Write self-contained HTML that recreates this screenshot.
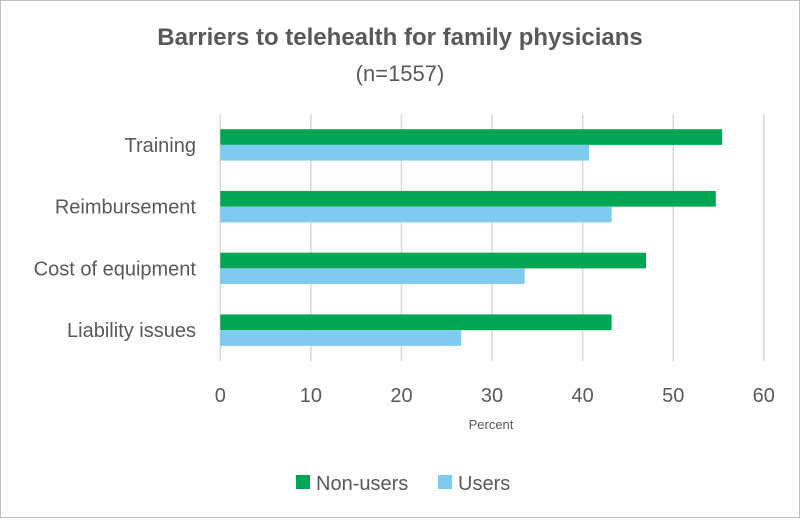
<!DOCTYPE html>
<html><head><meta charset="utf-8"><style>
body{margin:0;background:#fff;font-family:"Liberation Sans",sans-serif}
</style></head><body>
<svg width="800" height="518" xmlns="http://www.w3.org/2000/svg" id="chart">
<rect x="0.5" y="0.5" width="799" height="517" fill="#fff" stroke="#bfbfbf"/>
<text x="400" y="45" text-anchor="middle" font-size="24" font-weight="bold" fill="#595959">Barriers to telehealth for family physicians</text>
<text x="400" y="81" text-anchor="middle" font-size="22" fill="#595959">(n=1557)</text>
<text x="491" y="429" text-anchor="middle" font-size="13" fill="#595959">Percent</text>
<g id="grid"></g><g id="bars"></g><g id="labels"></g>
<rect x="296" y="475" width="14" height="14" fill="#00a651"/>
<text x="316" y="490" font-size="20" fill="#595959">Non-users</text>
<rect x="438" y="475" width="14" height="14" fill="#7ecbef"/>
<text x="458" y="490" font-size="20" fill="#595959">Users</text>
</svg>
<script>
const categories=["Training","Reimbursement","Cost of equipment","Liability issues"];
const nonUsers=[55.4,54.7,47.0,43.2];
const users=[40.7,43.2,33.6,26.6];
const ticks=[0,10,20,30,40,50,60];
const NS="http://www.w3.org/2000/svg";
const x0=220.3,x1=763.8,yTop=114,yBot=361,bh=15.7;
const xs=v=>x0+(v-0)/(60-0)*(x1-x0);
const band=(yBot-yTop)/categories.length;
function mk(t,a,p){const e=document.createElementNS(NS,t);for(const k in a)e.setAttribute(k,a[k]);p.appendChild(e);return e;}
const g=document.getElementById('grid'),b=document.getElementById('bars'),l=document.getElementById('labels');
ticks.forEach(t=>{
 const ln=mk('line',{x1:xs(t),x2:xs(t),y1:yTop,y2:yBot,stroke:'#d9d9d9','stroke-width':1.5},g);
 
 
 const tx=mk('text',{x:xs(t),y:402,'text-anchor':'middle','font-size':20,fill:'#595959'},l);
 tx.textContent=t;
 
 
});
categories.forEach((c,i)=>{
 const yc=yTop+band*i+band/2;
 const r1=mk('rect',{x:x0,y:yc-bh,width:xs(nonUsers[i])-x0,height:bh,fill:'#00a651'},b);
 
 
 const r2=mk('rect',{x:x0,y:yc,width:xs(users[i])-x0,height:bh,fill:'#7ecbef'},b);
 
 
 const t=mk('text',{x:196,y:yc+7,'text-anchor':'end','font-size':20,fill:'#595959'},l);
 t.textContent=c;
 
 
});
</script>
</body></html>
